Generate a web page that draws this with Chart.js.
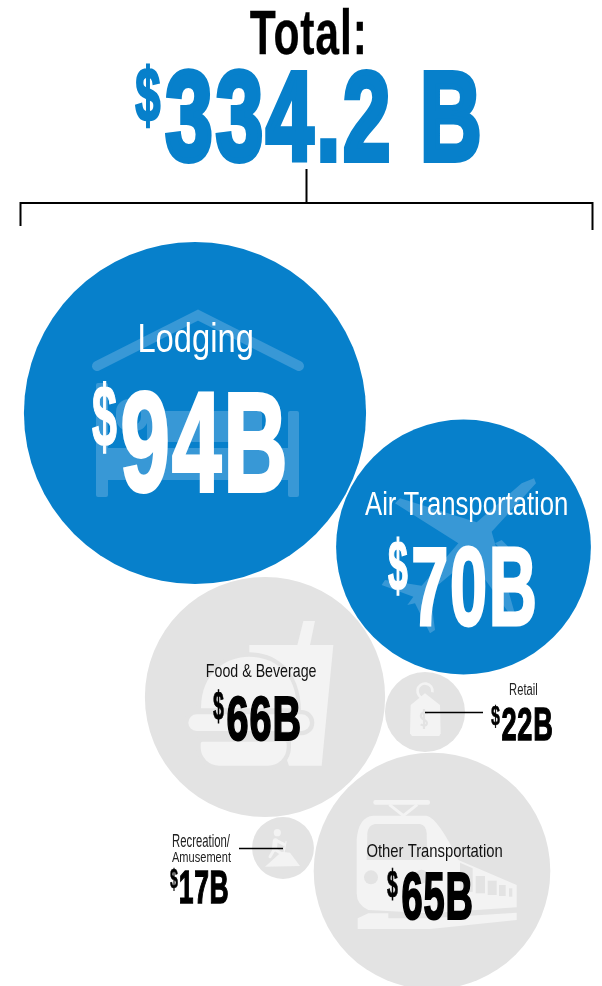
<!DOCTYPE html>
<html>
<head>
<meta charset="utf-8">
<style>html,body{margin:0;padding:0;background:#fff}canvas{display:block}</style>
<script src="https://cdn.jsdelivr.net/npm/chart.js@4"></script>
</head>
<body>
<canvas id="c" width="602" height="986"></canvas>
<script>
const categories = ["Lodging", "Air Transportation", "Food & Beverage", "Retail", "Other Transportation", "Recreation/Amusement"];
const billions = [94, 70, 66, 22, 65, 17];
const packX = [195, 463.5, 265, 425, 432, 283];
const packY = [413, 547, 697, 712, 871, 848];

const BLUE = "#0780CB", GREY = "#E3E3E3", PALE = "#F3F3F3", TINT = "#3898D6", INK = "#000";
const RADIUS_PER_BILLION = 1.82;
const FAMILY = '"Liberation Sans Narrow","Liberation Sans",sans-serif';

// text, left, right, top, bottom, weight, colour, embolden, tracking (em)
const labels = [
  ["Total:", 250, 363, 9, 55, "bold", INK, 0.2, 0.02],
  ["$", 135, 161, 63, 126, "bold", BLUE, 1.5, 0],
  ["334.2 B", 165, 480, 72, 161, "bold", BLUE, 4, 0.035],
  ["Lodging", 140, 252, 322, 360, "normal", "#fff", 0, 0],
  ["$", 92, 117, 381, 453, "bold", "#fff", 0.8, 0],
  ["94B", 122, 285, 392, 492, "bold", "#fff", 2.5, 0.025],
  ["Air Transportation", 365, 567, 491, 522, "normal", "#fff", 0, 0],
  ["$", 388, 408, 538, 595, "bold", "#fff", 0.8, 0],
  ["70B", 413, 535, 547, 626, "bold", "#fff", 1.8, 0.025],
  ["Food & Beverage", 207, 316, 663, 681, "normal", "#111", 0, 0],
  ["$", 213, 224, 690, 723, "bold", INK, 0.4, 0],
  ["66B", 227, 300, 696, 741, "bold", INK, 1.2, 0.025],
  ["Retail", 510, 537, 683, 695, "normal", "#222", 0, 0],
  ["$", 491, 500, 704, 727, "bold", INK, 0.3, 0],
  ["22B", 502, 552, 708, 740, "bold", INK, 0.8, 0.025],
  ["Recreation/", 173, 230, 834, 847, "normal", "#222", 0, 0],
  ["Amusement", 172, 231, 852, 862, "normal", "#222", 0, 0],
  ["$", 170, 178, 867, 890, "bold", INK, 0.3, 0],
  ["17B", 180, 228, 871, 903, "bold", INK, 0.8, 0.025],
  ["Other Transportation", 367, 502, 843, 861, "normal", "#111", 0, 0],
  ["$", 387, 398, 868, 900, "bold", INK, 0.4, 0],
  ["65B", 402, 472, 873, 920, "bold", INK, 1.2, 0.025]
];

function fitText(ctx, t, l, r, top, bot, weight, color, bold, track) {
  ctx.save();
  ctx.font = weight + " 100px " + FAMILY;
  ctx.letterSpacing = (track * 100) + "px";
  ctx.textBaseline = "alphabetic";
  ctx.textAlign = "left";
  const m = ctx.measureText(t);
  const w = m.actualBoundingBoxLeft + m.actualBoundingBoxRight;
  const h = m.actualBoundingBoxAscent + m.actualBoundingBoxDescent;
  const fs = 100 * (bot - top) / h;
  ctx.font = weight + " " + fs.toFixed(2) + "px " + FAMILY;
  ctx.letterSpacing = (track * fs).toFixed(2) + "px";
  const sx = (r - l - bold) / (w * fs / 100);
  ctx.translate(l + bold / 2 + m.actualBoundingBoxLeft * fs / 100 * sx, bot - m.actualBoundingBoxDescent * fs / 100);
  ctx.scale(sx, 1);
  ctx.fillStyle = color;
  ctx.fillText(t, 0, 0);
  if (bold) {
    ctx.strokeStyle = color;
    ctx.lineWidth = bold / sx;
    ctx.lineJoin = "miter";
    ctx.strokeText(t, 0, 0);
  }
  ctx.restore();
}

function poly(ctx, pts, ox, oy, k) {
  ctx.beginPath();
  pts.forEach((p, i) => i ? ctx.lineTo(ox + p[0] / k, oy + p[1] / k) : ctx.moveTo(ox + p[0] / k, oy + p[1] / k));
  ctx.closePath();
}
function rr(ctx, x, y, w, h, r) { ctx.beginPath(); ctx.roundRect(x, y, w, h, r); ctx.fill(); }

function drawBed(ctx) {
  ctx.save();
  ctx.strokeStyle = ctx.fillStyle = TINT;
  ctx.lineWidth = 10; ctx.lineCap = "round"; ctx.lineJoin = "miter";
  ctx.beginPath(); ctx.moveTo(97, 366); ctx.lineTo(198, 315); ctx.lineTo(299, 366); ctx.stroke();
  rr(ctx, 96, 383, 12, 114, 2);
  rr(ctx, 288, 411, 11, 86, 2);
  ctx.fillRect(108, 448, 180, 32);
  rr(ctx, 147, 411, 115, 31, 4);
  rr(ctx, 116, 399, 32, 32, 13);
  ctx.fillStyle = BLUE; rr(ctx, 123, 405, 18, 20, 8);
  ctx.restore();
}
function drawPlane(ctx) {
  ctx.save(); ctx.fillStyle = TINT;
  poly(ctx, [[612,190],[618,205],[485,350],[553,590],[535,592],[420,430],[300,530],[315,645],[300,655],[255,565],[232,570],[250,545],[155,510],[165,495],[275,512],[385,385],[195,265],[210,250],[440,322],[575,205]], 330, 415, 3);
  ctx.fill();
  poly(ctx, [[495,385],[515,375],[535,395],[515,405]], 330, 415, 3); ctx.fill();
  ctx.restore();
}
function drawMeal(ctx) {
  ctx.save();
  const o = [140, 575], k = 3;
  ctx.fillStyle = PALE;
  poly(ctx, [[490,138],[525,138],[510,210],[580,210],[545,572],[447,572],[328,240],[328,210],[472,210]], o[0], o[1], k);
  ctx.fill();
  const bun = (pad, col) => {
    ctx.fillStyle = col;
    ctx.beginPath();
    ctx.moveTo(o[0] + (183 - pad) / k, o[1] + (400 + pad) / k);
    ctx.bezierCurveTo(o[0] + (183 - pad) / k, o[1] + (290 - pad) / k, o[0] + 260 / k, o[1] + (245 - pad) / k, o[0] + 327 / k, o[1] + (245 - pad) / k);
    ctx.bezierCurveTo(o[0] + 400 / k, o[1] + (245 - pad) / k, o[0] + (470 + pad) / k, o[1] + (290 - pad) / k, o[0] + (470 + pad) / k, o[1] + (400 + pad) / k);
    ctx.closePath(); ctx.fill();
    rr(ctx, o[0] + (145 - pad) / k, o[1] + (418 - pad) / k, (365 + 2 * pad) / k, (50 + 2 * pad) / k, (25 + pad) / k);
    rr(ctx, o[0] + (182 - pad) / k, o[1] + (500 - pad) / k, (258 + 2 * pad) / k, (72 + 2 * pad) / k, [2, 2, (55 + pad) / k, (55 + pad) / k]);
  };
  bun(13, GREY);
  bun(0, PALE);
  ctx.restore();
}
function drawTag(ctx) {
  ctx.save();
  const X = v => 380 + v / 3, Y = v => 665 + v / 3;
  ctx.fillStyle = PALE; ctx.strokeStyle = PALE; ctx.lineWidth = 2.6;
  ctx.beginPath(); ctx.arc(X(135), Y(78), 7.5, Math.PI * 0.55, Math.PI * 2.05); ctx.stroke();
  poly(ctx, [[92,120],[135,85],[180,120],[182,205],[178,213],[96,213],[90,205]], 380, 665, 3); ctx.fill();
  ctx.strokeStyle = GREY; ctx.lineWidth = 2.2;
  ctx.beginPath();
  ctx.moveTo(X(143), Y(146));
  ctx.bezierCurveTo(X(125), Y(135), X(115), Y(155), X(130), Y(163));
  ctx.bezierCurveTo(X(148), Y(170), X(142), Y(190), X(122), Y(178));
  ctx.moveTo(X(132), Y(132)); ctx.lineTo(X(132), Y(192));
  ctx.stroke();
  ctx.restore();
}
function drawHiker(ctx) {
  ctx.save();
  const X = v => 160 + v / 3, Y = v => 810 + v / 3;
  ctx.fillStyle = ctx.strokeStyle = PALE; ctx.lineCap = "round";
  ctx.beginPath(); ctx.arc(X(352), Y(68), 3.6, 0, 7); ctx.fill();
  ctx.lineWidth = 5;
  ctx.beginPath(); ctx.moveTo(X(346), Y(92)); ctx.lineTo(X(343), Y(118)); ctx.stroke();
  ctx.lineWidth = 3;
  ctx.beginPath(); ctx.moveTo(X(343), Y(118)); ctx.lineTo(X(330), Y(140));
  ctx.moveTo(X(345), Y(118)); ctx.lineTo(X(362), Y(130));
  ctx.moveTo(X(350), Y(92)); ctx.lineTo(X(372), Y(103)); ctx.stroke();
  ctx.lineWidth = 1.2;
  ctx.beginPath(); ctx.moveTo(X(378), Y(95)); ctx.lineTo(X(370), Y(140)); ctx.stroke();
  poly(ctx, [[315,170],[340,148],[365,125],[390,128],[420,168]], 160, 810, 3); ctx.fill();
  ctx.restore();
}
function drawTrain(ctx) {
  ctx.save();
  const o = [310, 750], k = 3, X = v => o[0] + v / k, Y = v => o[1] + v / k;
  ctx.fillStyle = ctx.strokeStyle = PALE;
  rr(ctx, X(190), Y(150), 170 / k, 14 / k, 2);
  ctx.lineWidth = 3;
  ctx.beginPath(); ctx.moveTo(X(238), Y(164)); ctx.lineTo(X(280), Y(197)); ctx.lineTo(X(322), Y(164)); ctx.stroke();
  ctx.beginPath();
  ctx.moveTo(X(190), Y(197));
  ctx.lineTo(X(350), Y(197));
  ctx.quadraticCurveTo(X(385), Y(205), X(445), Y(330));
  ctx.lineTo(X(620), Y(405));
  ctx.lineTo(X(620), Y(472));
  ctx.lineTo(X(360), Y(490));
  ctx.lineTo(X(175), Y(480));
  ctx.quadraticCurveTo(X(140), Y(465), X(140), Y(430));
  ctx.lineTo(X(140), Y(270));
  ctx.quadraticCurveTo(X(145), Y(200), X(190), Y(197));
  ctx.closePath(); ctx.fill();
  ctx.fillStyle = GREY;
  ctx.beginPath();
  ctx.moveTo(X(195), Y(222)); ctx.lineTo(X(330), Y(222));
  ctx.quadraticCurveTo(X(348), Y(225), X(350), Y(250));
  ctx.lineTo(X(352), Y(330)); ctx.lineTo(X(170), Y(330));
  ctx.lineTo(X(172), Y(250)); ctx.quadraticCurveTo(X(175), Y(225), X(195), Y(222));
  ctx.closePath(); ctx.fill();
  ctx.beginPath(); ctx.arc(X(183), Y(382), 7, 0, 7); ctx.fill();
  ctx.beginPath(); ctx.arc(X(335), Y(380), 7, 0, 7); ctx.fill();
  poly(ctx, [[450,338],[488,355],[488,425],[450,430]], o[0], o[1], k); ctx.fill();
  [[497,378,28,52],[533,392,27,43],[567,405,20,33],[597,415,10,25]].forEach(w => ctx.fillRect(X(w[0]), Y(w[1]), w[2] / k, w[3] / k));
  ctx.fillStyle = PALE;
  poly(ctx, [[143,505],[175,490],[235,490],[235,505],[360,505],[620,488],[620,510],[360,537],[143,537]], o[0], o[1], k); ctx.fill();
  ctx.restore();
}

const artwork = {
  id: "artwork",
  afterDatasetsDraw(chart) {
    const ctx = chart.ctx;
    drawBed(ctx); drawPlane(ctx); drawMeal(ctx); drawTag(ctx); drawHiker(ctx); drawTrain(ctx);
    ctx.save();
    ctx.strokeStyle = "#000";
    ctx.lineCap = "butt";
    ctx.lineWidth = 2;
    ctx.beginPath();
    ctx.moveTo(306.5, 169); ctx.lineTo(306.5, 203);
    ctx.moveTo(20.5, 226); ctx.lineTo(20.5, 203); ctx.lineTo(592.5, 203); ctx.lineTo(592.5, 230);
    ctx.stroke();
    ctx.lineWidth = 1.4;
    ctx.beginPath();
    ctx.moveTo(425, 712.5); ctx.lineTo(483, 712.5);
    ctx.moveTo(239, 848.5); ctx.lineTo(283, 848.5);
    ctx.stroke();
    ctx.restore();
    labels.forEach(l => fitText(ctx, l[0], l[1], l[2], l[3], l[4], l[5], l[6], l[7], l[8]));
  }
};

new Chart(document.getElementById("c"), {
  type: "bubble",
  data: {
    labels: categories,
    datasets: [{
      data: billions.map((v, i) => ({ x: packX[i], y: packY[i], r: v * RADIUS_PER_BILLION })),
      backgroundColor: [BLUE, BLUE, GREY, GREY, GREY, GREY],
      borderWidth: 0,
      hoverBorderWidth: 0
    }]
  },
  options: {
    responsive: false,
    animation: false,
    layout: { padding: 0, autoPadding: false },
    plugins: { legend: { display: false }, tooltip: { enabled: false }, title: { display: false } },
    scales: {
      x: { type: "linear", min: 0, max: 602, display: false },
      y: { type: "linear", min: 0, max: 986, reverse: true, display: false }
    }
  },
  plugins: [artwork]
});
</script>
</body>
</html>
